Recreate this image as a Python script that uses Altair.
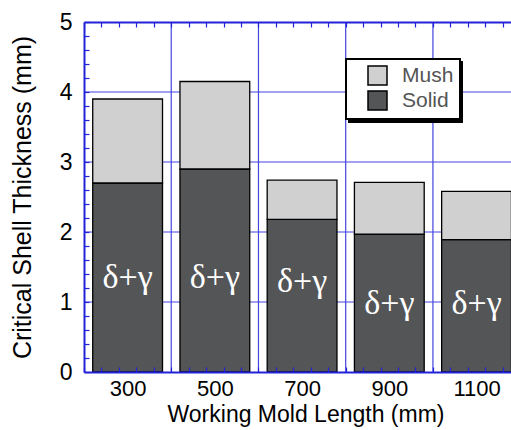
import altair as alt
import pandas as pd

# ---- data ----
lengths = [300, 500, 700, 900, 1100]
solid = [2.70, 2.90, 2.18, 1.97, 1.89]
mush = [1.20, 1.25, 0.56, 0.74, 0.69]
phase_label = ["δ+γ", "δ+γ", "δ+γ", "δ+γ", "δ+γ"]
label_y = [1.34, 1.34, 1.28, 0.97, 0.97]
parts = ["Mush", "Solid"]

x_grid = [400, 600, 800, 1000]
y_grid = [1, 2, 3, 4]
x_label_values = [300, 500, 700, 900, 1100]
y_label_values = [0, 1, 2, 3, 4, 5]
x_minor = list(range(200, 1180, 40))
y_minor = [round(i * 0.2, 1) for i in range(26)]

rows = []
for L, s, m in zip(lengths, solid, mush):
    rows.append({"length": L, "part": "Solid", "y0": 0.0, "y1": s})
    rows.append({"length": L, "part": "Mush", "y0": s, "y1": s + m})
bars_df = pd.DataFrame(rows)
text_df = pd.DataFrame({"length": lengths, "ly": label_y, "lab": phase_label})

BLUE = "#2222d8"
GRID = "#4444e0"
FONT = "Liberation Sans"
TICK = 5
LEG_X, LEG_Y = 262, 37

xscale = alt.Scale(domain=[200, 1179], nice=False, zero=False)
yscale = alt.Scale(domain=[0, 5], nice=False)


def minor_axis(orient, values):
    # ticks drawn outward from an axis shifted inward -> ticks point into the plot
    return alt.Axis(orient=orient, values=values, labels=False, domain=False,
                    ticks=True, tickSize=TICK, offset=-TICK, grid=False,
                    title=None, zindex=2)


def legend_box(x, y, fill, labels_color, sym_fill, z):
    return dict(
        title=None, orient="none", legendX=x, legendY=y,
        symbolType="square", symbolSize=361, symbolStrokeColor="black",
        symbolStrokeWidth=1.5, labelFontSize=21, labelColor=labels_color,
        labelFont=FONT, fillColor=fill, strokeColor="black", padding=6,
        symbolOffset=15, labelOffset=14, rowPadding=0, zindex=z,
        **({"symbolFillColor": sym_fill} if sym_fill else {}),
    )


bottom_axis = alt.Axis(
    orient="bottom",
    values=x_label_values,
    format="d",
    ticks=False,
    labelOverlap=False,
    labelFlush=False,
    labelBaseline="middle",
    labelPadding=16,
    labelFontSize=22,
    title="Working Mold Length (mm)",
    titleX=221.5,
    titleY=49,
    titleBaseline="alphabetic",
    titleAnchor="middle",
    grid=False,
    zindex=1,
)
top_domain_axis = alt.Axis(orient="top", values=[], labels=False, ticks=False,
                           domain=True, title=None, grid=False, zindex=1)
left_axis = alt.Axis(
    orient="left",
    values=y_label_values,
    format="d",
    ticks=False,
    labelOverlap=False,
    labelFlush=False,
    labelPadding=12,
    title="Critical Shell Thickness (mm)",
    titleX=-62,
    titleY=175,
    titleAngle=270,
    titleBaseline="middle",
    titleAlign="center",
    titleFontSize=25,
    grid=False,
    zindex=1,
)

xgrid = alt.Chart(pd.DataFrame({"g": x_grid})).mark_rule(color=GRID, strokeWidth=1.2).encode(
    x=alt.X("g:Q", scale=xscale, axis=minor_axis("top", x_minor))
)
ygrid = alt.Chart(pd.DataFrame({"g": y_grid})).mark_rule(color=GRID, strokeWidth=1.2).encode(
    y=alt.Y("g:Q", scale=yscale, axis=minor_axis("left", y_minor))
)
top_frame = alt.Chart(pd.DataFrame({"g": x_grid})).mark_rule(opacity=0).encode(
    x=alt.X("g:Q", scale=xscale, axis=top_domain_axis)
)

# black copy of the legend box, offset, acting as its drop shadow
shadow = alt.Chart(bars_df).mark_point(opacity=0).encode(
    x=alt.X("length:Q", scale=xscale, axis=None),
    y=alt.Y("y1:Q", scale=yscale, axis=None),
    shape=alt.Shape(
        "part:N",
        scale=alt.Scale(domain=parts, range=["square", "square"]),
        legend=alt.Legend(labelExpr="''", **{**legend_box(LEG_X + 3, LEG_Y + 3, "black", "black", "black", 0),
                                            "labelOffset": 65}),
    ),
)

bars = (
    alt.Chart(bars_df)
    .transform_calculate(xa="datum.length - 80", xb="datum.length + 80")
    .mark_bar(stroke="black", strokeWidth=1.3)
    .encode(
        x=alt.X("xa:Q", scale=xscale, axis=bottom_axis),
        x2="xb:Q",
        y=alt.Y("y0:Q", scale=yscale, axis=left_axis),
        y2="y1:Q",
        color=alt.Color(
            "part:N",
            scale=alt.Scale(domain=parts, range=["#d0d0d0", "#545557"]),
            legend=alt.Legend(**legend_box(LEG_X, LEG_Y, "white", "#555555", None, 1)),
        ),
    )
)

texts = alt.Chart(text_df).mark_text(
    color="white", font="Liberation Serif", fontSize=34, baseline="middle", align="center"
).encode(
    x=alt.X("length:Q", scale=xscale, axis=minor_axis("bottom", x_minor)),
    y=alt.Y("ly:Q", scale=yscale, axis=None),
    text="lab:N",
)

chart = (
    alt.layer(xgrid, ygrid, top_frame, shadow, bars, texts)
    .resolve_axis(x="independent", y="independent")
    .resolve_legend(color="independent", shape="independent")
    .properties(
        width=427,
        height=350,
        autosize=alt.AutoSizeParams(type="none"),
        padding={"left": 84, "top": 22, "right": 0, "bottom": 58},
        background="white",
    )
    .configure_view(stroke=None)
    .configure_axis(
        domainColor=BLUE,
        domainWidth=2,
        tickColor=BLUE,
        tickWidth=1.2,
        labelFont=FONT,
        labelFontSize=23,
        labelColor="black",
        titleFont=FONT,
        titleFontSize=23,
        titleFontWeight="normal",
        titleColor="black",
    )
    .configure_legend(strokeWidth=2)
)

chart.save("out.html", embed_options={"renderer": "svg", "actions": False})
